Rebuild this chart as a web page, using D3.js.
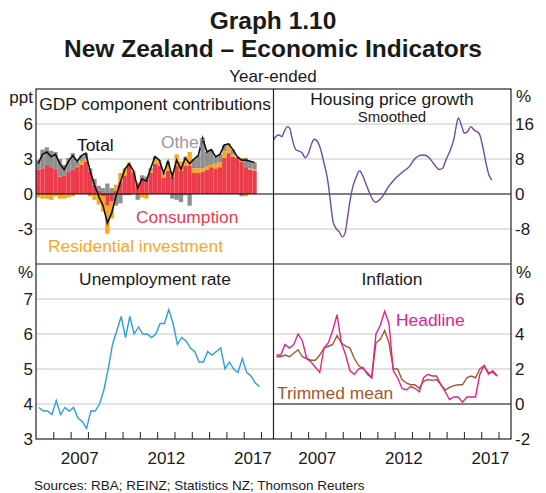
<!DOCTYPE html>
<html>
<head>
<meta charset="utf-8">
<script src="https://cdn.jsdelivr.net/npm/d3@7"></script>
<style>
  body { margin: 0; background: #fff; }
  text { font-family: "Liberation Sans", Arial, sans-serif; fill: #1a1a1a; }
</style>
</head>
<body>
<div id="chart"></div>
<script>
// GDP component contributions, year-ended, ppt (2005Q1 - 2017Q3)
const gdpConsumption = [2.1, 2.2, 2.5, 2.3, 2.2, 1.5, 1.6, 1.9, 2.1, 2.3, 2.5, 2.8,
  1.9, 0.8, 0.3, -0.2, -1.0, -0.6, 0.3, 1.0, 1.6, 2.4, 1.8, 0.8,
  1.3, 1.2, 1.8, 2.6, 2.4, 1.4, 2.0, 1.5, 2.4, 2.0, 2.4, 2.4,
  1.8, 1.8, 1.9, 2.1, 2.3, 2.2, 2.3, 3.1, 3.5, 3.2, 3.1, 2.8,
  2.3, 2.1, 2.0];
const gdpResidential = [-0.3, -0.4, -0.4, -0.5, -0.2, -0.4, -0.4, -0.3, -0.2, 0.1, 0.3, 0.2,
  -0.2, -0.5, -0.9, -1.3, -2.4, -1.5, 0.5, 0.8, 0.6, 0.3, 0.2, 0.2,
  -0.3, -0.4, 0.2, 0.4, 0.4, 0.3, 0.5, 0.4, 1.0, 0.8, 0.8, 1.2,
  0.4, 0.4, 0.3, 0.3, 0.2, 0.4, 0.4, 0.6, 0.7, 0.2, 0.1, 0.3,
  -0.2, 0.1, 0.1];
const gdpOther = [0.8, 1.6, 1.5, 1.4, 1.4, 1.5, 0.9, 1.2, 1.4, 0.4, 0.5, 0.5,
  0.3, 0.5, 0.4, 0.5, 0.9, 0.5, -1.0, -0.8, -0.1, -0.1, 0.0, -0.5,
  0.3, 0.3, 0.2, 0.2, 0.1, 0.1, 0.3, -0.4, -0.5, -0.7, -0.1, -1.0,
  0.8, 1.1, 2.6, 1.2, 1.3, 0.6, 0.7, 0.5, 0.1, 0.4, 0.0, -0.2,
  0.8, 0.6, 0.6];
const gdpTotal = [2.6, 3.4, 3.6, 3.2, 3.4, 2.6, 2.1, 2.8, 3.3, 2.8, 3.3, 3.5,
  2.0, 0.8, -0.2, -1.0, -2.5, -1.6, -0.2, 1.0, 2.1, 2.6, 2.0, 0.5,
  1.3, 1.1, 2.2, 3.2, 2.9, 1.8, 2.8, 1.5, 2.9, 2.1, 3.1, 2.6,
  3.0, 3.3, 4.8, 3.6, 3.8, 3.2, 3.4, 4.2, 4.3, 3.8, 3.2, 2.9,
  2.9, 2.8, 2.7];

// Housing price growth, smoothed, %
const housingDates = [2005.0, 2005.17, 2005.32, 2005.48, 2005.61, 2005.8, 2005.94, 2006.1, 2006.29, 2006.48,
  2006.67, 2006.83, 2007.02, 2007.21, 2007.35, 2007.54, 2007.73, 2007.92, 2008.06, 2008.17,
  2008.31, 2008.44, 2008.6, 2008.79, 2008.98, 2009.13, 2009.27, 2009.41, 2009.56, 2009.75,
  2009.98, 2010.14, 2010.33, 2010.52, 2010.75, 2010.91, 2011.1, 2011.29, 2011.58, 2011.87,
  2012.16, 2012.45, 2012.83, 2013.22, 2013.6, 2013.8, 2013.99, 2014.28, 2014.57, 2014.77,
  2014.96, 2015.25, 2015.43, 2015.57, 2015.68, 2015.88, 2016.02, 2016.2, 2016.4, 2016.59,
  2016.78, 2016.92, 2017.07, 2017.26, 2017.45, 2017.61];
const housingGrowth = [12.3, 13.3, 13.5, 13.1, 14.2, 15.4, 15.0, 12.3, 10.1, 9.8,
  9.3, 8.3, 9.3, 11.6, 12.5, 12.0, 10.1, 7.0, 4.7, 2.1,
  -2.5, -6.3, -7.8, -8.6, -9.8, -9.0, -5.6, -1.8, 1.3, 3.6,
  5.3, 4.3, 2.4, 0.5, -1.4, -1.9, -1.4, -0.6, 1.3, 2.8,
  4.0, 5.0, 6.2, 8.3, 8.9, 8.8, 8.3, 6.8, 5.6, 5.9,
  7.8, 10.4, 12.7, 15.8, 17.4, 15.4, 13.9, 14.2, 15.4, 14.6,
  14.2, 13.5, 11.2, 7.4, 4.3, 3.2];

// Unemployment rate, % (2005Q1 - 2017Q4)
const unemployment = [3.9, 3.8, 3.8, 3.7, 4.1, 3.7, 3.9, 3.8, 3.9, 3.6, 3.5, 3.3,
  3.8, 3.8, 4.0, 4.4, 5.0, 5.7, 6.1, 6.5, 5.9, 6.5, 6.0, 6.2,
  6.0, 6.0, 5.9, 6.0, 6.3, 6.3, 6.7, 6.3, 5.7, 5.9, 5.8, 5.6,
  5.5, 5.2, 5.2, 5.5, 5.4, 5.5, 5.6, 5.0, 5.2, 5.0, 4.9, 5.3,
  4.9, 4.8, 4.6, 4.5];

// Inflation, year-ended % (2005Q1 - 2017Q4)
const cpiHeadline = [2.8, 2.8, 3.4, 3.2, 3.4, 4.0, 3.6, 2.6, 2.4, 2.1, 1.8, 3.2,
  3.5, 4.2, 5.1, 3.5, 2.8, 1.9, 1.7, 2.0, 2.1, 1.7, 1.5, 4.0,
  4.5, 5.3, 4.6, 1.9, 1.5, 0.9, 0.8, 1.0, 0.9, 0.7, 1.5, 1.7,
  1.6, 1.6, 1.1, 0.7, 0.25, 0.4, 0.4, 0.1, 0.4, 0.4, 0.4, 1.7,
  2.2, 1.7, 1.9, 1.6];
const cpiTrimmed = [2.7, 2.7, 2.8, 2.7, 2.9, 3.1, 2.7, 2.6, 2.5, 2.5, 2.8, 3.2,
  3.3, 3.4, 3.9, 3.5, 3.3, 3.2, 2.6, 2.2, 2.0, 1.8, 1.5, 3.5,
  3.7, 4.2, 3.5, 2.0, 2.0, 1.4, 1.2, 1.1, 1.1, 0.9, 1.3, 1.4,
  1.35, 1.4, 1.1, 0.8, 0.95, 1.05, 1.1, 1.1, 1.5, 1.6, 1.5, 2.0,
  2.2, 1.8, 1.8, 1.6];

const yearLabels = [2007, 2012, 2017];
const yTicksGdp = [6, 3, 0, -3];
const yTicksHouse = [16, 8, 0, -8];
const yTicksUnemp = [7, 6, 5, 4, 3];
const yTicksInfl = [6, 4, 2, 0, -2];

const colors = {
  consumption: "#ec3b4b", residential: "#f7a823", other: "#8f8f8f",
  total: "#111", housing: "#6f4aa6", unemp: "#2a9fdb",
  headline: "#e2238d", trimmed: "#a4572b", grid: "#c6c6c6"
};

const width = 546, height = 493;
const f = { left: 36, mid: 273.5, right: 511, top: 89, split: 264, bottom: 439 };

const svg = d3.select("#chart")
  .append("svg")
  .attr("width", width)
  .attr("height", height);

// titles
svg.append("text").attr("x", 273).attr("y", 29).attr("text-anchor", "middle")
  .style("font-size", "24.5px").style("font-weight", "bold").text("Graph 1.10");
svg.append("text").attr("x", 273).attr("y", 57).attr("text-anchor", "middle")
  .style("font-size", "24.5px").style("font-weight", "bold").text("New Zealand – Economic Indicators");
svg.append("text").attr("x", 273).attr("y", 82).attr("text-anchor", "middle")
  .style("font-size", "17px").text("Year-ended");

// scales
const xL = d3.scaleLinear().domain([2005, 2018.72]).range([f.left, f.mid]);
const xR = d3.scaleLinear().domain([2005, 2018.72]).range([f.mid, f.right]);
const yGdp = d3.scaleLinear().domain([-6, 9]).range([f.split, f.top]);
const yHouse = d3.scaleLinear().domain([-16, 24]).range([f.split, f.top]);
const yUnemp = d3.scaleLinear().domain([3, 8]).range([f.bottom, f.split]);
const yInfl = d3.scaleLinear().domain([-2, 8]).range([f.bottom, f.split]);

// gridlines
function grid(x, y, ticks) {
  svg.append("g").selectAll("line")
    .data(ticks)
    .join("line")
    .attr("x1", x.range()[0]).attr("x2", x.range()[1])
    .attr("y1", d => y(d)).attr("y2", d => y(d))
    .attr("stroke", colors.grid)
    .attr("stroke-width", 1);
}
grid(xL, yGdp, [6, 3, -3]);
grid(xR, yHouse, [16, 8, -8]);
grid(xL, yUnemp, [7, 6, 5, 4]);
grid(xR, yInfl, [6, 4, 2]);

// GDP stacked bars
const gdpRows = gdpConsumption.map((c, i) => ({
  t: 2005 + i * 0.25,
  consumption: c,
  residential: gdpResidential[i],
  other: gdpOther[i]
}));
const stack = d3.stack()
  .keys(["consumption", "residential", "other"])
  .offset(d3.stackOffsetDiverging);
svg.append("g").selectAll("g")
  .data(stack(gdpRows))
  .join("g")
  .attr("fill", d => colors[d.key])
  .selectAll("rect")
  .data(d => d)
  .join("rect")
  .attr("x", d => xL(d.data.t))
  .attr("width", d => xL(d.data.t + 0.25) - xL(d.data.t))
  .attr("y", d => yGdp(d[1]))
  .attr("height", d => yGdp(d[0]) - yGdp(d[1]));

// zero lines over the bars
[[xL, yGdp], [xR, yHouse], [xR, yInfl]].forEach(([x, y]) => {
  svg.append("line")
    .attr("x1", x.range()[0]).attr("x2", x.range()[1])
    .attr("y1", y(0)).attr("y2", y(0))
    .attr("stroke", "#000").attr("stroke-width", 1);
});

svg.append("path")
  .datum(gdpTotal)
  .attr("fill", "none").attr("stroke", colors.total).attr("stroke-width", 1.6)
  .attr("d", d3.line().x((d, i) => xL(2005.125 + i * 0.25)).y(d => yGdp(d)));

// housing
svg.append("path")
  .datum(housingGrowth)
  .attr("fill", "none").attr("stroke", colors.housing).attr("stroke-width", 1.4)
  .attr("d", d3.line().curve(d3.curveMonotoneX)
    .x((d, i) => xR(housingDates[i])).y(d => yHouse(d)));

// unemployment
svg.append("path")
  .datum(unemployment)
  .attr("fill", "none").attr("stroke", colors.unemp).attr("stroke-width", 1.4)
  .attr("d", d3.line().x((d, i) => xL(2005.17 + i * 0.25)).y(d => yUnemp(d)));

// inflation
svg.append("path")
  .datum(cpiTrimmed)
  .attr("fill", "none").attr("stroke", colors.trimmed).attr("stroke-width", 1.4)
  .attr("d", d3.line().x((d, i) => xR(2005.17 + i * 0.25)).y(d => yInfl(d)));
svg.append("path")
  .datum(cpiHeadline)
  .attr("fill", "none").attr("stroke", colors.headline).attr("stroke-width", 1.4)
  .attr("d", d3.line().x((d, i) => xR(2005.17 + i * 0.25)).y(d => yInfl(d)));

// y axes (plain hyphen for negatives, as in the original)
function yAxis(axis, y, ticks, x) {
  const g = svg.append("g")
    .attr("transform", `translate(${x},0)`)
    .call(axis(y).tickValues(ticks).tickSize(0).tickPadding(0).tickFormat(d => String(d)));
  g.select(".domain").remove();
  g.selectAll("text")
    .style("font-size", "17px")
    .style("font-family", "'Liberation Sans', Arial, sans-serif")
    .attr("fill", "#1a1a1a");
}
yAxis(d3.axisLeft, yGdp, yTicksGdp, f.left - 3);
yAxis(d3.axisRight, yHouse, yTicksHouse, f.right + 4);
yAxis(d3.axisLeft, yUnemp, yTicksUnemp, f.left - 3);
yAxis(d3.axisRight, yInfl, yTicksInfl, f.right + 4);

// x axes: inward year ticks and centred year labels
[xL, xR].forEach(x => {
  const ticks = svg.append("g")
    .attr("transform", `translate(0,${f.bottom})`)
    .call(d3.axisBottom(x).tickValues(d3.range(2006, 2019)).tickSize(-7).tickFormat(""));
  ticks.select(".domain").remove();
  ticks.selectAll("line").attr("stroke", "#222");
  const labels = svg.append("g")
    .attr("transform", `translate(0,${f.bottom})`)
    .call(d3.axisBottom(x).tickValues(yearLabels.map(d => d + 0.5))
      .tickSize(0).tickPadding(13).tickFormat(d => Math.floor(d)));
  labels.select(".domain").remove();
  labels.selectAll("text")
    .style("font-size", "17px")
    .style("font-family", "'Liberation Sans', Arial, sans-serif")
    .attr("fill", "#1a1a1a");
});

// frame
svg.append("rect")
  .attr("x", f.left).attr("y", f.top)
  .attr("width", f.right - f.left).attr("height", f.bottom - f.top)
  .attr("fill", "none").attr("stroke", "#222").attr("stroke-width", 1.2);
svg.append("line").attr("x1", f.mid).attr("x2", f.mid).attr("y1", f.top).attr("y2", f.bottom)
  .attr("stroke", "#222").attr("stroke-width", 1.2);
svg.append("line").attr("x1", f.left).attr("x2", f.right).attr("y1", f.split).attr("y2", f.split)
  .attr("stroke", "#222").attr("stroke-width", 1.2);

// unit labels
function label(x, y, text, anchor, size, fill) {
  return svg.append("text").attr("x", x).attr("y", y)
    .attr("text-anchor", anchor || "start")
    .style("font-size", (size || 17) + "px")
    .style("fill", fill || "#1a1a1a")
    .text(text);
}
label(33, 103, "ppt", "end");
label(516, 102, "%");
label(33, 278, "%", "end");
label(516, 278, "%");

// panel titles
label(155, 110, "GDP component contributions", "middle", 17.4);
label(392, 105, "Housing price growth", "middle", 17.4);
label(392, 122, "Smoothed", "middle", 15);
label(155, 285, "Unemployment rate", "middle", 17.4);
label(392, 285, "Inflation", "middle", 17.4);

// series labels
label(77, 151, "Total", "start", 17.4, colors.total);
label(161, 148, "Other", "start", 17.4, "#999");
label(136, 223, "Consumption", "start", 17.4, colors.consumption);
label(48, 252, "Residential investment", "start", 17.4, colors.residential);
label(396, 326, "Headline", "start", 17.4, colors.headline);
label(277, 399, "Trimmed mean", "start", 17.4, colors.trimmed);

// source
label(34, 490, "Sources: RBA; REINZ; Statistics NZ; Thomson Reuters", "start", 13.5);
</script>
</body>
</html>
